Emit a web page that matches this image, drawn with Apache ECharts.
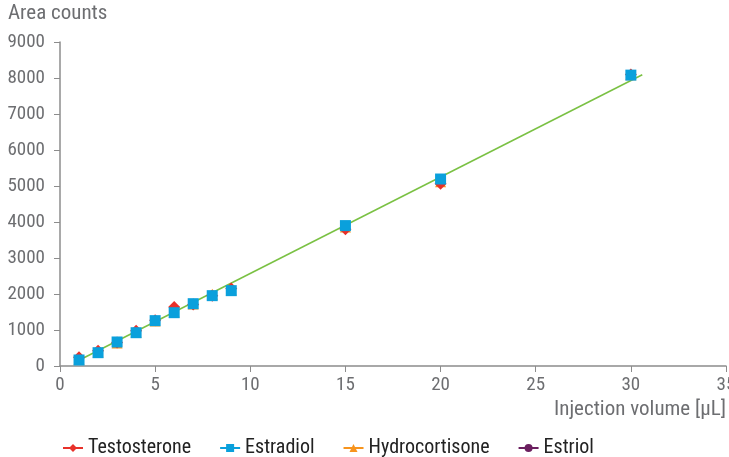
<!DOCTYPE html>
<html><head><meta charset="utf-8">
<script src="https://cdn.jsdelivr.net/npm/echarts@6/dist/echarts.min.js"></script>
<style>html,body{margin:0;padding:0;background:#fff}#c{width:729px;height:457px}</style>
</head><body><div id="c"></div>
<script>
const volumes = [1, 2, 3, 4, 5, 6, 7, 8, 9, 15, 20, 30];
const testosterone = [240, 425, 650, 980, 1270, 1640, 1710, 1950, 2150, 3800, 5060, 8100];
const estradiol = [167, 370, 667, 925, 1260, 1481, 1731, 1954, 2093, 3900, 5194, 8080];
const hydrocortisone = [190, 390, 640, 940, 1250, 1500, 1720, 1990, 2110, 3860, 5120, 8090];
const estriol = [180, 380, 660, 930, 1255, 1490, 1725, 1970, 2100, 3880, 5150, 8085];
const fitLine = [[1, 160], [30.6, 8090]];

const FONT = '"Liberation Sans Narrow", "Roboto Condensed", Roboto, sans-serif';
const TXT = '#6d6e71';
const AX = '#8c8c8c';
function pts(arr){ return volumes.map((v,i)=>[v, arr[i]]); }
function mk(name, arr, color, symbol, size, z){
  return {name, type:'line', data:pts(arr), symbol, symbolSize:size, z,
    itemStyle:{color}, lineStyle:{opacity:0, color}, emphasis:{disabled:true}};
}
const chart = echarts.init(document.getElementById('c'));
chart.setOption({
  animation:false,
  grid:{left:60, right:3, top:42, bottom:91, outerBoundsMode:'none', containLabel:false},
  textStyle:{fontFamily:FONT},
  legend:{left:57, top:433, itemGap:28, itemWidth:20, itemHeight:10,
    textStyle:{fontFamily:FONT, fontSize:20, color:'#222', padding:[0,0,0,0]},
    lineStyle:{opacity:1, width:2},
    data:['Testosterone','Estradiol','Hydrocortisone','Estriol']},
  xAxis:{type:'value', min:0, max:35, interval:5,
    name:'Injection volume [µL]', nameLocation:'end', nameGap:0,
    nameTextStyle:{fontFamily:FONT, fontSize:21, color:TXT, align:'right', verticalAlign:'top', padding:[33,0,0,0]},
    axisLine:{lineStyle:{color:AX, width:1.5}}, axisTick:{show:true, length:6, lineStyle:{color:AX}},
    axisLabel:{fontFamily:FONT, fontSize:19, color:TXT, margin:10}, splitLine:{show:false}},
  yAxis:{type:'value', min:0, max:9000, interval:1000,
    name:'Area counts', nameLocation:'end', nameGap:18,
    nameTextStyle:{fontFamily:FONT, fontSize:21, color:TXT, align:'left', padding:[0,0,0,-52]},
    axisLine:{show:true, lineStyle:{color:AX, width:1.5}}, axisTick:{show:true, length:6, lineStyle:{color:AX}},
    axisLabel:{fontFamily:FONT, fontSize:19, color:TXT, margin:15, formatter: v => String(v)}, splitLine:{show:false}},
  series:[
    {name:'fit', type:'line', data:fitLine, symbol:'none', z:1,
     lineStyle:{color:'#7ac143', width:1.5}, emphasis:{disabled:true}},
    mk('Testosterone', testosterone, '#e8312a', 'diamond', 12, 4),
    mk('Estradiol', estradiol, '#0aa0dc', 'rect', 11, 5),
    mk('Hydrocortisone', hydrocortisone, '#f7941d', 'triangle', 11, 3),
    mk('Estriol', estriol, '#6b1f5f', 'circle', 9, 2)
  ]
});
</script></body></html>
